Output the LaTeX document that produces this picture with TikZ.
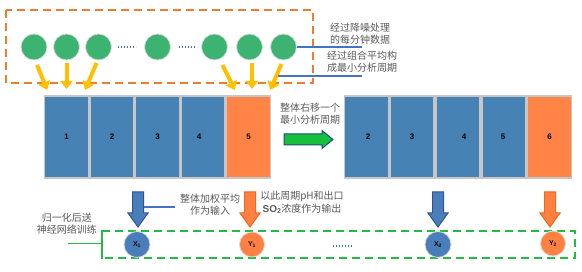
\documentclass[tikz,border=0pt]{standalone}
\usepackage{fontspec}
\setmainfont{Noto Sans CJK SC}
\newfontfamily\numfont{Liberation Sans}
\usetikzlibrary{arrows.meta,calc}
\definecolor{boxblue}{RGB}{70,130,180}
\definecolor{boxorange}{RGB}{255,132,70}
\definecolor{cgreen}{RGB}{60,179,113}
\definecolor{arryellow}{RGB}{255,192,0}
\definecolor{dashorange}{RGB}{237,125,49}
\definecolor{dashgreen}{RGB}{34,187,68}
\definecolor{lineblue}{RGB}{68,114,196}
\definecolor{txtgray}{RGB}{90,90,90}
\definecolor{arrgreen}{RGB}{20,192,60}
\definecolor{arrgreenedge}{RGB}{31,78,121}
\definecolor{darrblue}{RGB}{74,126,187}
\definecolor{darrblueedge}{RGB}{47,85,151}
\definecolor{darrorange}{RGB}{255,128,64}
\definecolor{darroredge}{RGB}{235,105,35}
\begin{document}
\begin{tikzpicture}[x=1pt,y=-1pt,
  dot/.style={circle,inner sep=0pt,minimum size=26pt,fill=cgreen,draw=gray!30,line width=0.8pt},
  cell/.style={rectangle,inner sep=0pt,minimum width=43.8pt,minimum height=82.5pt,fill=boxblue,draw=gray!45,line width=1.6pt,font=\numfont\bfseries\fontsize{8}{8}\selectfont},
  hot/.style={cell,fill=boxorange},
  yarrow/.style={draw=arryellow,line width=4pt,-{Triangle[length=8pt,width=12pt]}},
  note/.style={align=center,text=txtgray,font=\fontsize{10}{12.5}\selectfont,inner sep=0pt},
  bline/.style={draw=lineblue,line width=1.2pt},
  dotline/.style={draw=lineblue,line width=1.2pt,dash pattern=on 1.2pt off 1.8pt},
  xnode/.style={circle,inner sep=0pt,minimum size=26pt,fill=darrblue,draw=gray!30,line width=0.8pt,font=\numfont\bfseries\fontsize{7}{7}\selectfont},
  ynode/.style={xnode,minimum size=25pt,fill=darrorange},
  darrow/.pic={\draw[pic actions,line width=1pt,line join=miter] (-5.5,0) -- (5.5,0) -- (5.5,21) -- (10,21) -- (0,35) -- (-10,21) -- (-5.5,21) -- cycle;}
]
\useasboundingbox (0,0) rectangle (582,272);
\fill[white] (0,0) rectangle (582,272);

% top dashed frame
\draw[dashorange,line width=2pt,dash pattern=on 8pt off 5pt] (6,10) rectangle (313,83);

% minute data circles
\node[dot] (c1) at (34,47) {};
\node[dot] (c2) at (66.5,47) {};
\node[dot] (c3) at (98.5,47) {};
\node[dot] (c4) at (157.5,47) {};
\node[dot] (c5) at (214.5,47) {};
\node[dot] (c6) at (249.5,47) {};
\node[dot] (c7) at (283.5,47) {};
\draw[dotline] (118,47) -- (136,47);
\draw[dotline] (179,47) -- (197,47);

% left cells
\node[cell] (b1) at (66.5,137) {1};
\node[cell] (b2) at (112,137) {2};
\node[cell] (b3) at (157.5,137) {3};
\node[cell] (b4) at (203,137) {\hspace*{-8pt}4};
\node[hot]  (b5) at (248.5,137) {5};

% right cells
\node[cell] (r2) at (366.5,137) {\hspace*{3pt}2};
\node[cell] (r3) at (412,137) {3};
\node[cell] (r4) at (458,137) {\hspace*{12pt}4};
\node[cell] (r5) at (504,137) {\hspace*{-2pt}5};
\node[hot]  (r6) at (549.5,137) {6};

% yellow arrows
\draw[yarrow] ($(c1)+(3,18)$) -- ($(b1.north west)+(3.5,-5)$);
\draw[yarrow] ($(c2)+(0,16)$) -- ($(b1.north)+(0,-6)$);
\draw[yarrow] ($(c3)+(-2,16)$) -- ($(b1.north east)+(-4,-5)$);
\draw[yarrow] ($(c5)+(8,18)$) -- ($(b5.north west)+(9,-5)$);
\draw[yarrow] ($(c6)+(2.5,16)$) -- ($(b5.north)+(3.5,-6)$);
\draw[yarrow] ($(c7)+(-2,17)$) -- ($(b5.north east)+(-1,-5)$);

% annotation lines
\coordinate (l1e) at (362,47);
\coordinate (l2s) at (278,76);
\coordinate (l2e) at (362,76);
\draw[bline] (c7.east) -- (l1e);
\draw[bline] (l2s) -- (l2e);
\node[note] (t1) at (360,33.5) {经过降噪处理\\的每分钟数据};
\node[note] (t2) at (362,61.5) {经过组合平均构\\成最小分析周期};

% shift arrow
\node[note] (t3) at (310,113.5) {整体右移一个\\最小分析周期};
\draw[fill=arrgreen,draw=arrgreenedge,line width=1pt,line join=miter]
  (284,134) -- (322,134) -- (322,130.5) -- (333,139.5) -- (322,148.5) -- (322,145) -- (284,145) -- cycle;

% down arrows
\pic[fill=darrblue,draw=darrblueedge] at (138,192) {darrow};
\pic[fill=darrorange,draw=darroredge] at (250,192) {darrow};
\pic[fill=darrblue,draw=darrblueedge] at (438,192) {darrow};
\pic[fill=darrorange,draw=darroredge] at (550,192) {darrow};

\coordinate (l3s) at (143.5,207);
\coordinate (l3e) at (175,207);
\draw[bline] (l3s) -- (l3e);
\node[note] (t4) at (210,204.5) {整体加权平均\\作为输入};
\node[note] (t5) at (302,202.5) {以此周期pH和出口\\{\numfont\bfseries SO\textsubscript{2}}浓度作为输出};

% bottom dashed frame
\draw[dashgreen,line width=2pt,dash pattern=on 8pt off 5pt] (102,231) -- (575,231) -- (575,258) -- (102,258);
\draw[dashgreen,line width=2pt] (102,230) -- (102,259);
\coordinate (gl) at (68,244);
\coordinate (gr) at (102,244);
\draw[dashgreen,line width=1pt] (gl) -- (gr);
\node[note] (t6) at (67,223.5) {归一化后送\\神经网络训练};

% samples
\node[xnode] (x1) at (137,244.5) {X\textsubscript{1}};
\node[ynode] (y1) at (252,244.5) {Y\textsubscript{1}};
\node[xnode] (x2) at (438,244.5) {X\textsubscript{2}};
\node[ynode] (y2) at (553,243.5) {Y\textsubscript{2}};
\draw[dotline] (333,246) -- (352,246);
\end{tikzpicture}
\end{document}
